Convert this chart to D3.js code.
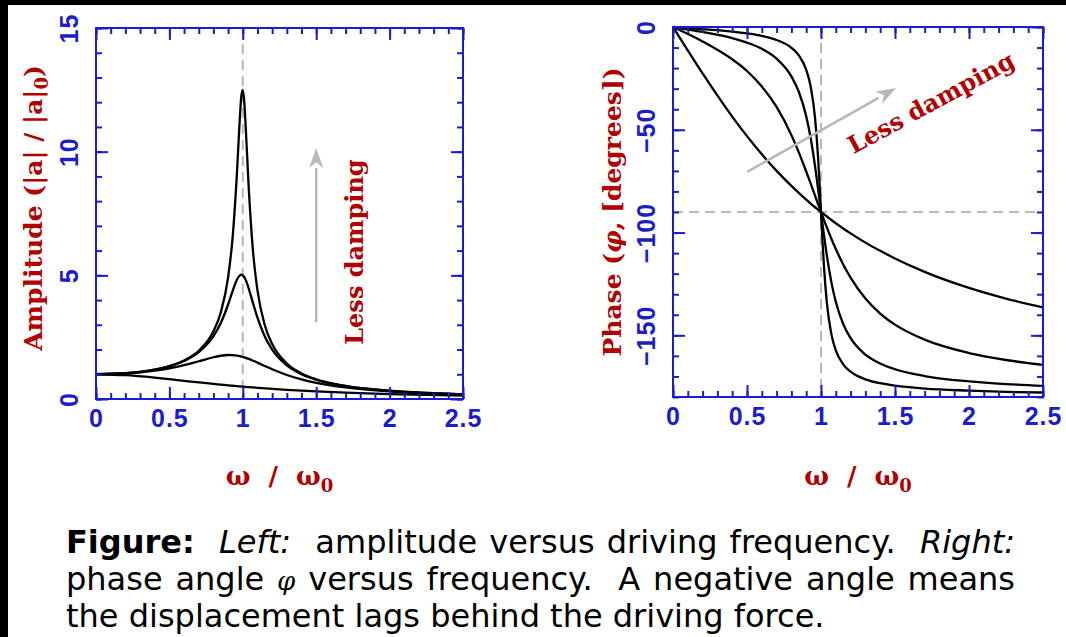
<!DOCTYPE html>
<html lang="en">
<head>
<meta charset="UTF-8">
<script src="https://cdn.jsdelivr.net/npm/d3@7"></script>
<title>Driven oscillator: amplitude and phase</title>
<style>
  body { margin: 0; background: #fff; }
  svg { display: block; }
</style>
</head>
<body>
<svg width="1066" height="637"></svg>
<script>
// driving frequency, in units of omega0
const omega = [0, 0.2, 0.4, 0.5, 0.6, 0.7, 0.8, 0.85, 0.9, 0.93, 0.96, 0.98, 0.99, 1.0,
               1.01, 1.02, 1.04, 1.07, 1.1, 1.15, 1.2, 1.3, 1.4, 1.5, 1.7, 2.0, 2.25, 2.5];

// amplitude |a| / |a|0, heaviest damping first
const ampHeavy  = [1, 0.962, 0.862, 0.8, 0.735, 0.671, 0.610, 0.581, 0.552, 0.536, 0.520, 0.510, 0.505, 0.5,
                   0.495, 0.490, 0.480, 0.466, 0.453, 0.431, 0.410, 0.372, 0.338, 0.308, 0.257, 0.2, 0.165, 0.138];
const ampMedium = [1, 1.034, 1.146, 1.241, 1.368, 1.526, 1.688, 1.749, 1.778, 1.775, 1.754, 1.730, 1.716, 1.7,
                   1.682, 1.663, 1.620, 1.548, 1.470, 1.334, 1.202, 0.971, 0.791, 0.654, 0.468, 0.310, 0.234, 0.183];
const ampLight  = [1, 1.041, 1.185, 1.322, 1.536, 1.891, 2.538, 3.073, 3.821, 4.350, 4.822, 5.001, 5.025, 5.0,
                   4.926, 4.809, 4.476, 3.869, 3.288, 2.525, 1.995, 1.356, 1.0, 0.778, 0.521, 0.330, 0.245, 0.190];
const ampLeast  = [1, 1.042, 1.190, 1.331, 1.558, 1.949, 2.735, 3.50, 4.922, 6.484, 9.112, 11.385, 12.246, 12.5,
                   12.01, 10.98, 8.581, 5.941, 4.392, 2.982, 2.221, 1.433, 1.035, 0.796, 0.528, 0.333, 0.246, 0.190];

// phase in degrees, same order
const phaseHeavy  = [0, -22.6, -43.6, -53.1, -61.9, -70.0, -77.3, -80.7, -84.0, -85.9, -87.7, -88.8, -89.4, -90,
                     -90.6, -91.1, -92.2, -93.9, -95.5, -98.0, -100.4, -104.9, -108.9, -112.6, -119.1, -126.9, -132.1, -136.4];
const phaseMedium = [0, -7.0, -15.7, -21.4, -28.9, -38.9, -52.6, -61.0, -70.3, -76.1, -82.1, -86.1, -88.0, -90,
                     -91.9, -93.9, -97.6, -103.0, -108.0, -115.5, -121.9, -132.1, -139.4, -144.8, -152.1, -158.6, -162.0, -164.4];
const phaseLight  = [0, -2.4, -5.4, -7.6, -10.6, -15.4, -24.0, -31.5, -43.4, -54.0, -67.8, -78.6, -84.3, -90,
                     -95.7, -101.2, -111.4, -124.1, -133.7, -144.5, -151.4, -159.4, -163.7, -166.5, -169.8, -172.4, -173.7, -174.6];
const phaseLeast  = [0, -1.0, -2.2, -3.1, -4.3, -6.3, -10.1, -13.8, -20.8, -28.8, -44.4, -63.2, -75.9, -90,
                     -104.0, -116.3, -134.5, -149.4, -157.3, -164.1, -167.7, -171.4, -173.3, -174.5, -175.9, -176.9, -177.5, -177.8];

// ticks
const xMajor = [0, 0.5, 1, 1.5, 2, 2.5];
const xMinor = d3.range(0, 2.501, 0.1);
const ampMajor = [0, 5, 10, 15];
const ampMinor = d3.range(0, 16, 1);
const phaseMajor = [0, -50, -100, -150];
const phaseMinor = d3.range(-180, 1, 10);

const blue = "#1c1cc8", red = "#b00000", grey = "#b8b8b8";
const tickFont = "'Liberation Sans', Arial, sans-serif";
const serif = "'DejaVu Serif', serif";
const sp2 = "\u00a0 "; // double space in the caption

const svg = d3.select("svg");
svg.append("rect").attr("width", 1066).attr("height", 637).attr("fill", "#fff");
// black edges of the original screenshot
svg.append("rect").attr("width", 1066).attr("height", 5).attr("fill", "#000");
svg.append("rect").attr("width", 8).attr("height", 637).attr("fill", "#000");

const fmt = d3.format("~g");
const line = (x, y) => d3.line().curve(d3.curveMonotoneX).x(d => x(d[0])).y(d => y(d[1]));

function axisPart(g, axis, tr, values, size, labels) {
  const a = g.append("g").attr("transform", tr)
    .call(axis.tickValues(values).tickSize(-size).tickPadding(10).tickFormat(labels ? fmt : ""));
  a.select(".domain").remove();
  a.selectAll(".tick line").attr("stroke", blue).attr("stroke-width", 2);
  a.attr("font-family", tickFont).attr("font-size", 25).attr("font-weight", "bold");
  a.selectAll(".tick text").attr("fill", blue).attr("letter-spacing", 1);
  return a;
}

function frame(g, x, y, yMajor, yMinor) {
  const [xl, xr] = x.range(), [yb, yt] = y.range();
  axisPart(g, d3.axisBottom(x), `translate(0,${yb})`, xMinor, 6, false);
  axisPart(g, d3.axisBottom(x), `translate(0,${yb})`, xMajor, 12, true);
  axisPart(g, d3.axisTop(x), `translate(0,${yt})`, xMinor, 6, false);
  axisPart(g, d3.axisTop(x), `translate(0,${yt})`, xMajor, 12, false);
  axisPart(g, d3.axisRight(y), `translate(${xr},0)`, yMinor, 6, false);
  axisPart(g, d3.axisRight(y), `translate(${xr},0)`, yMajor, 12, false);
  axisPart(g, d3.axisLeft(y), `translate(${xl},0)`, yMinor, 6, false);
  const left = axisPart(g, d3.axisLeft(y), `translate(${xl},0)`, yMajor, 12, true);
  left.selectAll(".tick text")
    .attr("x", null).attr("dy", null)
    .attr("text-anchor", "middle")
    .attr("transform", "translate(-18,0) rotate(-90)");
  g.append("rect")
    .attr("x", xl).attr("y", yt).attr("width", xr - xl).attr("height", yb - yt)
    .attr("fill", "none").attr("stroke", blue).attr("stroke-width", 2);
}

function arrow(g, x1, y1, x2, y2) {
  const ang = Math.atan2(y2 - y1, x2 - x1);
  const len = 20, half = 7;
  const bx = x2 - len * Math.cos(ang), by = y2 - len * Math.sin(ang);
  g.append("line").attr("x1", x1).attr("y1", y1).attr("x2", bx).attr("y2", by)
    .attr("stroke", grey).attr("stroke-width", 2.5);
  g.append("path")
    .attr("d", `M${x2},${y2}L${bx - half * Math.sin(ang)},${by + half * Math.cos(ang)}`
             + `L${bx + 6 * Math.cos(ang)},${by + 6 * Math.sin(ang)}`
             + `L${bx + half * Math.sin(ang)},${by - half * Math.cos(ang)}Z`)
    .attr("fill", grey);
}

function xTitle(g, x, ybase) {
  const t = g.append("text")
    .attr("x", (x.range()[0] + x.range()[1]) / 2).attr("y", ybase)
    .attr("text-anchor", "middle").attr("fill", red)
    .attr("font-family", serif).attr("font-weight", "bold").attr("font-size", 26);
  t.append("tspan").text("ω\u00a0 /\u00a0 ω");
  t.append("tspan").attr("font-size", 18).attr("dy", 7).text("0");
}

// ---- left: amplitude ----
const xA = d3.scaleLinear().domain([0, 2.5]).range([96, 463]);
const yA = d3.scaleLinear().domain([0, 15]).range([399, 28]);
const gA = svg.append("g");

gA.append("line")
  .attr("x1", xA(1)).attr("x2", xA(1)).attr("y1", yA(15)).attr("y2", yA(0))
  .attr("stroke", grey).attr("stroke-width", 2).attr("stroke-dasharray", "10,6");

[ampHeavy, ampMedium, ampLight, ampLeast].forEach(v => {
  gA.append("path")
    .datum(omega.map((w, i) => [w, v[i]]))
    .attr("fill", "none").attr("stroke", "#000").attr("stroke-width", 2.3)
    .attr("d", line(xA, yA));
});

arrow(gA, xA(1.5), yA(3.1), xA(1.5), yA(10.15));
gA.append("text")
  .attr("transform", `translate(${xA(1.765) + 8},${yA(5.94)}) rotate(-90)`)
  .attr("text-anchor", "middle").attr("fill", red)
  .attr("font-family", serif).attr("font-weight", "bold").attr("font-size", 24)
  .text("Less damping");

frame(gA, xA, yA, ampMajor, ampMinor);

const ampTitle = gA.append("text")
  .attr("transform", "translate(42,208) rotate(-90)")
  .attr("text-anchor", "middle").attr("fill", red)
  .attr("font-family", serif).attr("font-weight", "bold").attr("font-size", 25);
ampTitle.append("tspan").text("Amplitude (|a| / |a|");
ampTitle.append("tspan").attr("font-size", 18).attr("dy", 6).text("0");
ampTitle.append("tspan").attr("dy", -6).text(")");

xTitle(gA, xA, 485);

// ---- right: phase ----
const xP = d3.scaleLinear().domain([0, 2.5]).range([673, 1043]);
const yP = d3.scaleLinear().domain([-180, 0]).range([397, 27]);
const gP = svg.append("g");

gP.append("line")
  .attr("x1", xP(1)).attr("x2", xP(1)).attr("y1", yP(0)).attr("y2", yP(-180))
  .attr("stroke", grey).attr("stroke-width", 2).attr("stroke-dasharray", "10,6");
gP.append("line")
  .attr("x1", xP(0)).attr("x2", xP(2.5)).attr("y1", yP(-90)).attr("y2", yP(-90))
  .attr("stroke", grey).attr("stroke-width", 2).attr("stroke-dasharray", "10,6");

[phaseHeavy, phaseMedium, phaseLight, phaseLeast].forEach(v => {
  gP.append("path")
    .datum(omega.map((w, i) => [w, v[i]]))
    .attr("fill", "none").attr("stroke", "#000").attr("stroke-width", 2.3)
    .attr("d", line(xP, yP));
});

arrow(gP, xP(0.5), yP(-70.5), xP(1.507), yP(-29.7));
gP.append("text")
  .attr("transform", `translate(${xP(1.77)},${yP(-37.5) + 6}) rotate(-28.5)`)
  .attr("text-anchor", "middle").attr("fill", red)
  .attr("font-family", serif).attr("font-weight", "bold").attr("font-size", 24)
  .text("Less damping");

frame(gP, xP, yP, phaseMajor, phaseMinor);

const phaseTitle = gP.append("text")
  .attr("transform", "translate(621,212) rotate(-90)")
  .attr("text-anchor", "middle").attr("fill", red)
  .attr("font-family", serif).attr("font-weight", "bold").attr("font-size", 25);
phaseTitle.append("tspan").text("Phase (");
phaseTitle.append("tspan").attr("font-style", "italic").text("φ");
phaseTitle.append("tspan").text(",\u00a0[degrees])");

xTitle(gP, xP, 485);

// ---- caption (first two lines justified to the same right edge) ----
const capLeft = 66, capRight = 1015;
const cap = svg.append("g")
  .attr("font-family", "'DejaVu Sans', sans-serif").attr("font-size", 32).attr("fill", "#000");
const l1 = cap.append("text").attr("x", capLeft).attr("y", 553);
l1.append("tspan").attr("font-weight", "bold").text("Figure:");
l1.append("tspan").text(sp2);
l1.append("tspan").attr("font-style", "italic").text("Left:");
l1.append("tspan").text(sp2 + "amplitude versus driving frequency." + sp2);
l1.append("tspan").attr("font-style", "italic").text("Right:");
const l2 = cap.append("text").attr("x", capLeft).attr("y", 590);
l2.append("tspan").text("phase angle ");
l2.append("tspan").attr("font-family", serif).attr("font-style", "italic").attr("font-size", 26).text("φ");
l2.append("tspan").text(" versus frequency." + sp2 + "A negative angle means");
cap.append("text").attr("x", capLeft).attr("y", 627)
  .text("the displacement lags behind the driving force.");

[l1, l2].forEach(t => {
  const gaps = (t.text().match(/[ \u00a0]/g) || []).length;
  const extra = (capRight - capLeft) - t.node().getComputedTextLength();
  t.attr("word-spacing", extra / gaps);
});
</script>
</body>
</html>
